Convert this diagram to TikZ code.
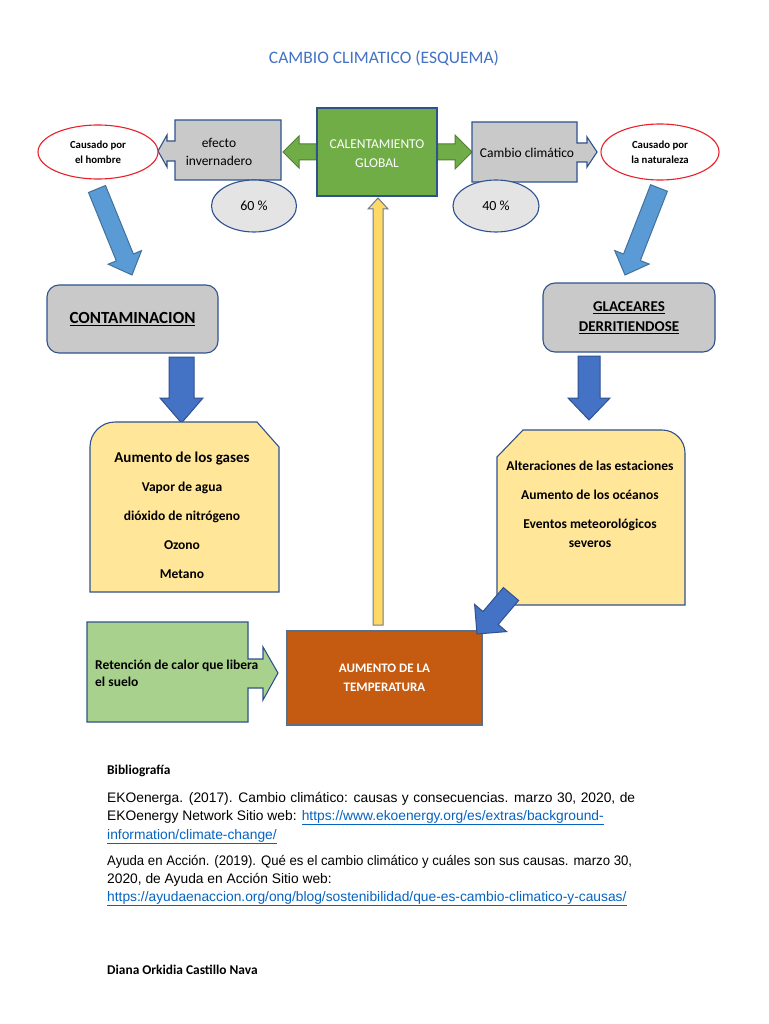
\documentclass[tikz,border=0pt]{standalone}
\usepackage{fontspec}
\usepackage{graphicx}
\setmainfont{Carlito}
\newfontfamily\arialfont{Liberation Sans}
\usetikzlibrary{calc,shapes.geometric,backgrounds}
\definecolor{titleblue}{HTML}{4472C4}
\definecolor{bordblue}{HTML}{2F528F}
\definecolor{gboxfill}{HTML}{70AD47}
\definecolor{garrowline}{HTML}{507E32}
\definecolor{grayfill}{HTML}{C9C9C9}
\definecolor{pctfill}{HTML}{E4E4E4}
\definecolor{skyblue}{HTML}{5B9BD5}
\definecolor{skyline}{HTML}{41719C}
\definecolor{deepblue}{HTML}{4472C4}
\definecolor{paleyellow}{HTML}{FFE699}
\definecolor{goldfill}{HTML}{FFD966}
\definecolor{goldline}{HTML}{6A7B96}
\definecolor{leaf}{HTML}{A9D18E}
\definecolor{rust}{HTML}{C55A11}
\definecolor{rustline}{HTML}{5B6F8A}
\definecolor{linkblue}{HTML}{0563C1}
\definecolor{redline}{HTML}{E8202A}
\newcommand\fsz[2]{\fontsize{#1}{#2}\selectfont}
% block arrow: style, from, to, shaft half-width, head half-width, head length
\newcommand\blockarrow[6]{%
  \coordinate (bahead) at ($(#3)!#6!(#2)$);
  \path[#1] ($(#2)!#4!90:(#3)$) -- ($(bahead)!#4!90:(#3)$) -- ($(bahead)!#5!90:(#3)$) -- (#3) -- ($(bahead)!#5!-90:(#3)$) -- ($(bahead)!#4!-90:(#3)$) -- ($(#2)!#4!-90:(#3)$) -- cycle;
}
\tikzset{
  bluebord/.style={draw=bordblue, line width=1.1pt},
  greenarrow/.style={fill=gboxfill, draw=garrowline, line width=1pt},
  skyarrow/.style={fill=skyblue, draw=skyline, line width=1pt},
  deeparrow/.style={fill=deepblue, draw=bordblue, line width=1pt},
  goldarrow/.style={fill=goldfill, draw=goldline, line width=1pt},
  graycallout/.style={fill=grayfill, bluebord},
  yellowbox/.style={fill=paleyellow, bluebord},
  leafbox/.style={fill=leaf, bluebord},
  redoval/.style={ellipse, draw=redline, line width=1.1pt, fill=white, inner sep=0pt, align=center, font={\fsz{10.8}{15}\bfseries}},
  pctoval/.style={ellipse, fill=pctfill, bluebord, inner sep=0pt, font={\fsz{14}{16}}},
  grayround/.style={rectangle, rounded corners=12pt, fill=grayfill, bluebord, inner sep=0pt, align=center},
  txt/.style={inner sep=0pt, align=center},
  biblio/.style={anchor=base west, inner sep=0pt, font={\arialfont\fsz{13.8}{16}}},
  bibbold/.style={anchor=base west, inner sep=0pt, font={\fsz{13.4}{15}\bfseries}},
}
\begin{document}
\begin{tikzpicture}[x=1pt,y=-1pt]
\useasboundingbox (0,0) rectangle (768,1024);
% title
\node[txt, font={\fsz{17.5}{20}}, text=titleblue] (title) at (384,58) {CAMBIO CLIMATICO (ESQUEMA)};
% central box
\node[rectangle, fill=gboxfill, bluebord, minimum width=120pt, minimum height=88pt, inner sep=0pt, text=white, font={\fsz{13.5}{19}}] (calent) at (377,152) {\raisebox{0pt}[\dimexpr\height+4pt\relax][\depth]{\begin{tabular}{@{}c@{}}CALENTAMIENTO\\GLOBAL\end{tabular}}};
% callout boxes
\draw[graycallout] (281,120) -- (175,120) -- (175,141) -- (167,141) -- (167,135) -- (158,151) -- (167,167) -- (167,161) -- (175,161) -- (175,180) -- (281,180) -- cycle;
\node[txt, font={\fsz{13.5}{18}}] (efecto) at (219,152) {efecto\\invernadero};
\draw[graycallout] (472,122) -- (577,122) -- (577,143) -- (587,143) -- (587,137) -- (597,152) -- (587,167) -- (587,162) -- (577,162) -- (577,182) -- (472,182) -- cycle;
\node[txt, font={\fsz{13.5}{18}}] (cambio) at (527,153) {Cambio climático};
\coordinate (efectoE) at (283,152);
\coordinate (cambioW) at (472,152);
% red ovals
\node[redoval, minimum width=120pt, minimum height=54pt] (hombre) at (98,152) {Causado por\\el hombre};
\node[redoval, minimum width=118pt, minimum height=56pt] (natur) at (660,152) {Causado por\\la naturaleza};
% percent ovals
\node[pctoval, minimum width=85pt, minimum height=52pt] (p60) at (254,206) {60 \%};
\node[pctoval, minimum width=86pt, minimum height=52pt] (p40) at (496,206) {40 \%};
% green arrows (behind)
\begin{scope}[on background layer]
\fill[white] (0,0) rectangle (768,1024);
\blockarrow{greenarrow}{calent.west}{efectoE}{8pt}{16pt}{16pt}
\blockarrow{greenarrow}{calent.east}{cambioW}{8pt}{17pt}{17pt}
\end{scope}
% diagonal blue arrows
\coordinate (dl0) at (97,189); \coordinate (dl1) at (132,275);
\blockarrow{skyarrow}{dl0}{dl1}{9.2pt}{18pt}{19pt}
\coordinate (dr0) at (659,188); \coordinate (dr1) at (625,275);
\blockarrow{skyarrow}{dr0}{dr1}{9pt}{18.5pt}{19pt}
% second row boxes
\node[grayround, minimum width=171pt, minimum height=68pt, font={\fsz{17}{20}\bfseries}] (contam) at (132.5,319) {\underline{CONTAMINACION}};
\node[grayround, minimum width=172pt, minimum height=69pt, font={\fsz{15}{20}\bfseries}] (glac) at (629,317.5) {\underline{GLACEARES}\\\underline{DERRITIENDOSE}};
% down arrows
\coordinate (al0) at (181.5,357); \coordinate (al1) at (181.5,423);
\blockarrow{deeparrow}{al0}{al1}{12.5pt}{21.5pt}{25pt}
\coordinate (ar0) at (589,356); \coordinate (ar1) at (589,420);
\blockarrow{deeparrow}{ar0}{ar1}{11pt}{21pt}{22pt}
% yellow boxes
\draw[yellowbox] (90,592) -- (90,447) arc[start angle=180, end angle=90, radius=25pt] -- (257,422) -- (279,447) -- (279,592) -- cycle;
\node[txt, font={\fsz{13.5}{29}\bfseries}] (gases) at (182,515) {{\fsz{15}{29}Aumento de los gases}\\Vapor de agua\\dióxido de nitrógeno\\Ozono\\Metano};
\draw[yellowbox] (497,605) -- (497,457) -- (523,430) -- (662,430) arc[start angle=90, end angle=0, radius=23pt] -- (685,605) -- cycle;
\node[txt, font={\fsz{13.5}{19}\bfseries}] (efectos) at (590,504) {Alteraciones de las estaciones\\[10pt]Aumento de los océanos\\[10pt]Eventos meteorológicos\\severos};
% bottom row
\draw[leafbox] (87,622) -- (248,622) -- (248,659) -- (263,659) -- (263,647) -- (278,673) -- (263,700) -- (263,688) -- (248,688) -- (248,722) -- (87,722) -- cycle;
\node[inner sep=0pt, anchor=west, align=left, font={\fsz{13.5}{17}\bfseries}] (reten) at (95,673) {Retención de calor que libera\\el suelo};
\node[rectangle, fill=rust, draw=rustline, line width=1.1pt, minimum width=195pt, minimum height=94pt, inner sep=0pt, text=white, align=center, font={\fsz{13}{19}\bfseries}] (temp) at (384.5,678) {AUMENTO DE LA\\TEMPERATURA};
% arrows into/out of temperature
\coordinate (y0) at (378,625); \coordinate (y1) at (378,198);
\blockarrow{goldarrow}{y0}{y1}{5pt}{10pt}{11pt}
\coordinate (d30) at (511,594); \coordinate (d31) at (477,634);
\blockarrow{deeparrow}{d30}{d31}{10pt}{21pt}{21pt}
% bibliography
\node[bibbold] (bibh) at (107,774) {Bibliografía};
\node[biblio] (b1) at (107,802) {\spaceskip=4.5pt EKOenerga. (2017). Cambio climático: causas y consecuencias. marzo 30, 2020, de};
\node[biblio] (b2) at (107,820) {EKOenergy Network Sitio web: \textcolor{linkblue}{\underline{https://www.ekoenergy.org/es/extras/background-}}};
\node[biblio] (b3) at (107,839) {\textcolor{linkblue}{\underline{information/climate-change/}}};
\node[biblio] (b4) at (107,865) {\scalebox{0.955}[1]{Ayuda en Acción. (2019). Qué es el cambio climático y cuáles son sus causas. marzo 30,}};
\node[biblio] (b5) at (107,883) {2020, de Ayuda en Acción Sitio web:};
\node[biblio] (b6) at (107,901) {\textcolor{linkblue}{\underline{https://ayudaenaccion.org/ong/blog/sostenibilidad/que-es-cambio-climatico-y-causas/}}};
\node[bibbold] (author) at (107,974) {Diana Orkidia Castillo Nava};
\end{tikzpicture}
\end{document}
